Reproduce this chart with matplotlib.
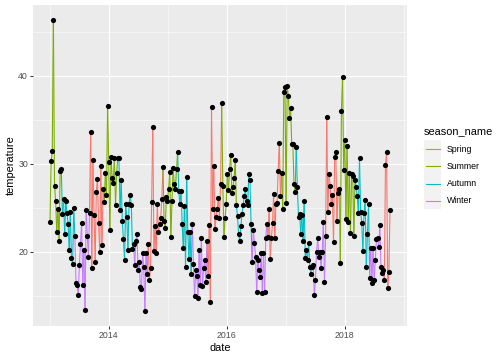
import numpy as np
import pandas as pd
import matplotlib
matplotlib.use('Agg')
import matplotlib.pyplot as plt
import matplotlib.dates as mdates
from matplotlib.collections import LineCollection
from matplotlib.lines import Line2D
from matplotlib.patches import Rectangle
from matplotlib.ticker import MultipleLocator

plt.rcParams['font.family'] = ['Liberation Sans', 'DejaVu Sans']

# weekly temperatures, one list per season (southern hemisphere seasons)
summer_13 = [23.4, 30.3, 31.4, 46.4, 27.5, 25.8, 22.2, 24.9, 21.2]
autumn_13 = [29.2, 29.4, 24.3, 26.0, 22.0, 25.8, 24.4, 23.2, 20.2, 24.5, 19.3, 18.6, 25.0]
winter_13 = [21.8, 16.4, 16.2, 15.1, 18.5, 20.9, 23.3, 16.2, 20.2, 13.4, 24.7, 21.8, 19.4]
spring_13 = [24.4, 33.6, 18.1, 30.4, 24.2, 18.8, 26.8, 28.3, 23.3, 20.0, 29.7, 20.7, 27.1]
summer_14 = [25.6, 28.9, 26.5, 36.6, 30.2, 22.5, 30.8, 28.4, 27.8, 30.7, 25.3, 28.9, 30.7]
autumn_14 = [30.7, 24.7, 28.2, 23.5, 21.4, 19.1, 25.4, 23.9, 20.2, 25.4, 26.5, 25.3, 20.3]
winter_14 = [20.9, 18.5, 21.2, 22.0, 17.9, 18.8, 16.0, 15.8, 19.8, 18.3, 13.2, 19.8, 17.5]
spring_14 = [20.9, 16.8, 18.1, 25.7, 34.2, 20.1, 22.9, 19.8, 25.4, 22.2, 23.1, 23.8, 26.0]
summer_15 = [29.6, 23.5, 22.7, 26.2, 25.8, 27.1, 29.1, 21.7, 25.8, 29.5, 27.7, 27.1, 29.4]
autumn_15 = [31.3, 26.9, 25.4, 26.9, 23.2, 20.4, 25.2, 18.2, 28.5, 22.2, 19.2, 22.2, 17.5]
winter_15 = [23.2, 18.6, 14.9, 17.9, 17.2, 14.7, 20.2, 16.2, 21.5, 16.1, 18.1, 19.0, 16.6]
spring_15 = [21.2, 17.2, 23.0, 14.3, 36.4, 24.9, 29.7, 22.6, 23.9, 24.8, 26.1, 23.8, 27.7]
summer_16 = [36.9, 27.5, 21.7, 23.8, 25.4, 28.8, 27.0, 29.4, 31.0, 26.7, 27.3, 28.4, 30.4]
autumn_16 = [25.3, 24.0, 22.0, 21.2, 22.9, 24.3, 25.3, 26.3, 27.1, 25.8, 25.3, 28.8, 28.2, 23.1]
winter_16 = [18.8, 22.5, 21.0, 19.4, 15.4, 19.1, 17.9, 17.1, 19.8, 15.3, 19.9, 15.4, 21.5]
spring_16 = [23.2, 21.7, 24.9, 19.2, 21.5, 23.3, 26.6, 21.5, 25.4, 25.5, 29.2, 32.4, 26.3]
summer_17 = [29.0, 24.9, 38.2, 38.7, 25.5, 38.8, 37.7, 35.2, 36.3, 32.3, 32.2, 27.7, 26.8]
autumn_17 = [31.9, 27.3, 23.9, 24.3, 22.0, 24.2, 21.2, 25.8, 19.3, 20.2, 19.1, 21.0, 18.3]
winter_17 = [17.5, 18.3, 18.5, 15.1, 16.8, 20.0, 21.5, 19.4, 20.0, 18.1, 20.0, 23.4, 16.6]
spring_17 = [21.8, 35.3, 24.5, 28.8, 27.5, 25.4, 26.4, 21.1, 30.8, 31.3, 23.5, 26.7, 27.1]
summer_18 = [18.7, 36.0, 39.9, 29.3, 32.7, 23.7, 32.0, 23.4, 29.0, 22.1, 28.8, 28.6, 21.8]
autumn_18 = [28.1, 27.4, 26.3, 24.4, 30.7, 24.5, 23.3, 20.1, 24.4, 25.9, 18.2, 22.0, 25.4]
winter_18 = [17.0, 20.4, 16.4, 20.4, 16.8, 19.1, 21.4, 21.5, 20.5, 23.0, 18.2, 17.6, 17.9]
spring_18 = [16.8, 29.9, 31.3, 15.9, 17.7, 24.7]

temperature = (summer_13 + autumn_13 + winter_13 + spring_13 +
               summer_14 + autumn_14 + winter_14 + spring_14 +
               summer_15 + autumn_15 + winter_15 + spring_15 +
               summer_16 + autumn_16 + winter_16 + spring_16 +
               summer_17 + autumn_17 + winter_17 + spring_17 +
               summer_18 + autumn_18 + winter_18 + spring_18)
date = pd.date_range('2013-01-01', periods=len(temperature), freq='7D')

season_names = ['Spring', 'Summer', 'Autumn', 'Winter']
season_colors = ['#F8766D', '#7CAE00', '#00BFC4', '#C77CFF']
month_season = {12: 'Summer', 1: 'Summer', 2: 'Summer',
                3: 'Autumn', 4: 'Autumn', 5: 'Autumn',
                6: 'Winter', 7: 'Winter', 8: 'Winter',
                9: 'Spring', 10: 'Spring', 11: 'Spring'}
season_name = [month_season[d.month] for d in date]
color_of = dict(zip(season_names, season_colors))

W, H = 504, 360
fig = plt.figure(figsize=(W / 72, H / 72), dpi=72)
ax = fig.add_axes([33 / W, 1 - 326 / H, (407 - 33) / W, (326 - 5) / H])
ax.set_facecolor('#EBEBEB')

# line segments coloured by the season of their first point
xnum = mdates.date2num(date)
pts = np.column_stack([xnum, temperature])
segs = np.stack([pts[:-1], pts[1:]], axis=1)
lc = LineCollection(segs, colors=[color_of[s] for s in season_name[:-1]],
                    linewidths=1.1, zorder=2)
ax.add_collection(lc)
ax.plot(date, temperature, 'o', color='black', ms=5.2, mew=0, zorder=3)

ax.xaxis.set_major_locator(mdates.YearLocator(2))
ax.xaxis.set_minor_locator(mdates.YearLocator(1))
ax.xaxis.set_major_formatter(mdates.DateFormatter('%Y'))
ax.yaxis.set_major_locator(MultipleLocator(10))
ax.yaxis.set_minor_locator(MultipleLocator(5))

ax.grid(which='major', color='white', lw=1.1)
ax.grid(which='minor', color='white', lw=0.55)
ax.set_axisbelow(True)
for s in ax.spines.values():
    s.set_visible(False)
ax.tick_params(which='major', length=2.75, width=1.0, color='#333333',
               labelcolor='#4D4D4D', labelsize=8.8, pad=2.2)
ax.tick_params(which='minor', length=0)
ax.set_xlabel('date', fontsize=11, labelpad=3)
ax.set_ylabel('temperature', fontsize=11, labelpad=3)

# legend
fig.text(424 / W, 1 - 131 / H, 'season_name', fontsize=11, va='center', ha='left')
fig.patches.append(Rectangle((424 / W, 1 - 209 / H), 17.3 / W, 69 / H,
                             transform=fig.transFigure, facecolor='#F2F2F2',
                             edgecolor='none'))
for i, (name, c) in enumerate(zip(season_names, season_colors)):
    yc = 1 - (149.3 + 17.1 * i) / H
    fig.add_artist(Line2D([425.7 / W, 439.6 / W], [yc, yc], color=c, lw=1.1,
                          transform=fig.transFigure))
    fig.text(446.7 / W, yc, name, fontsize=8.8, va='center', ha='left')

fig.savefig('out.png', dpi=72)
